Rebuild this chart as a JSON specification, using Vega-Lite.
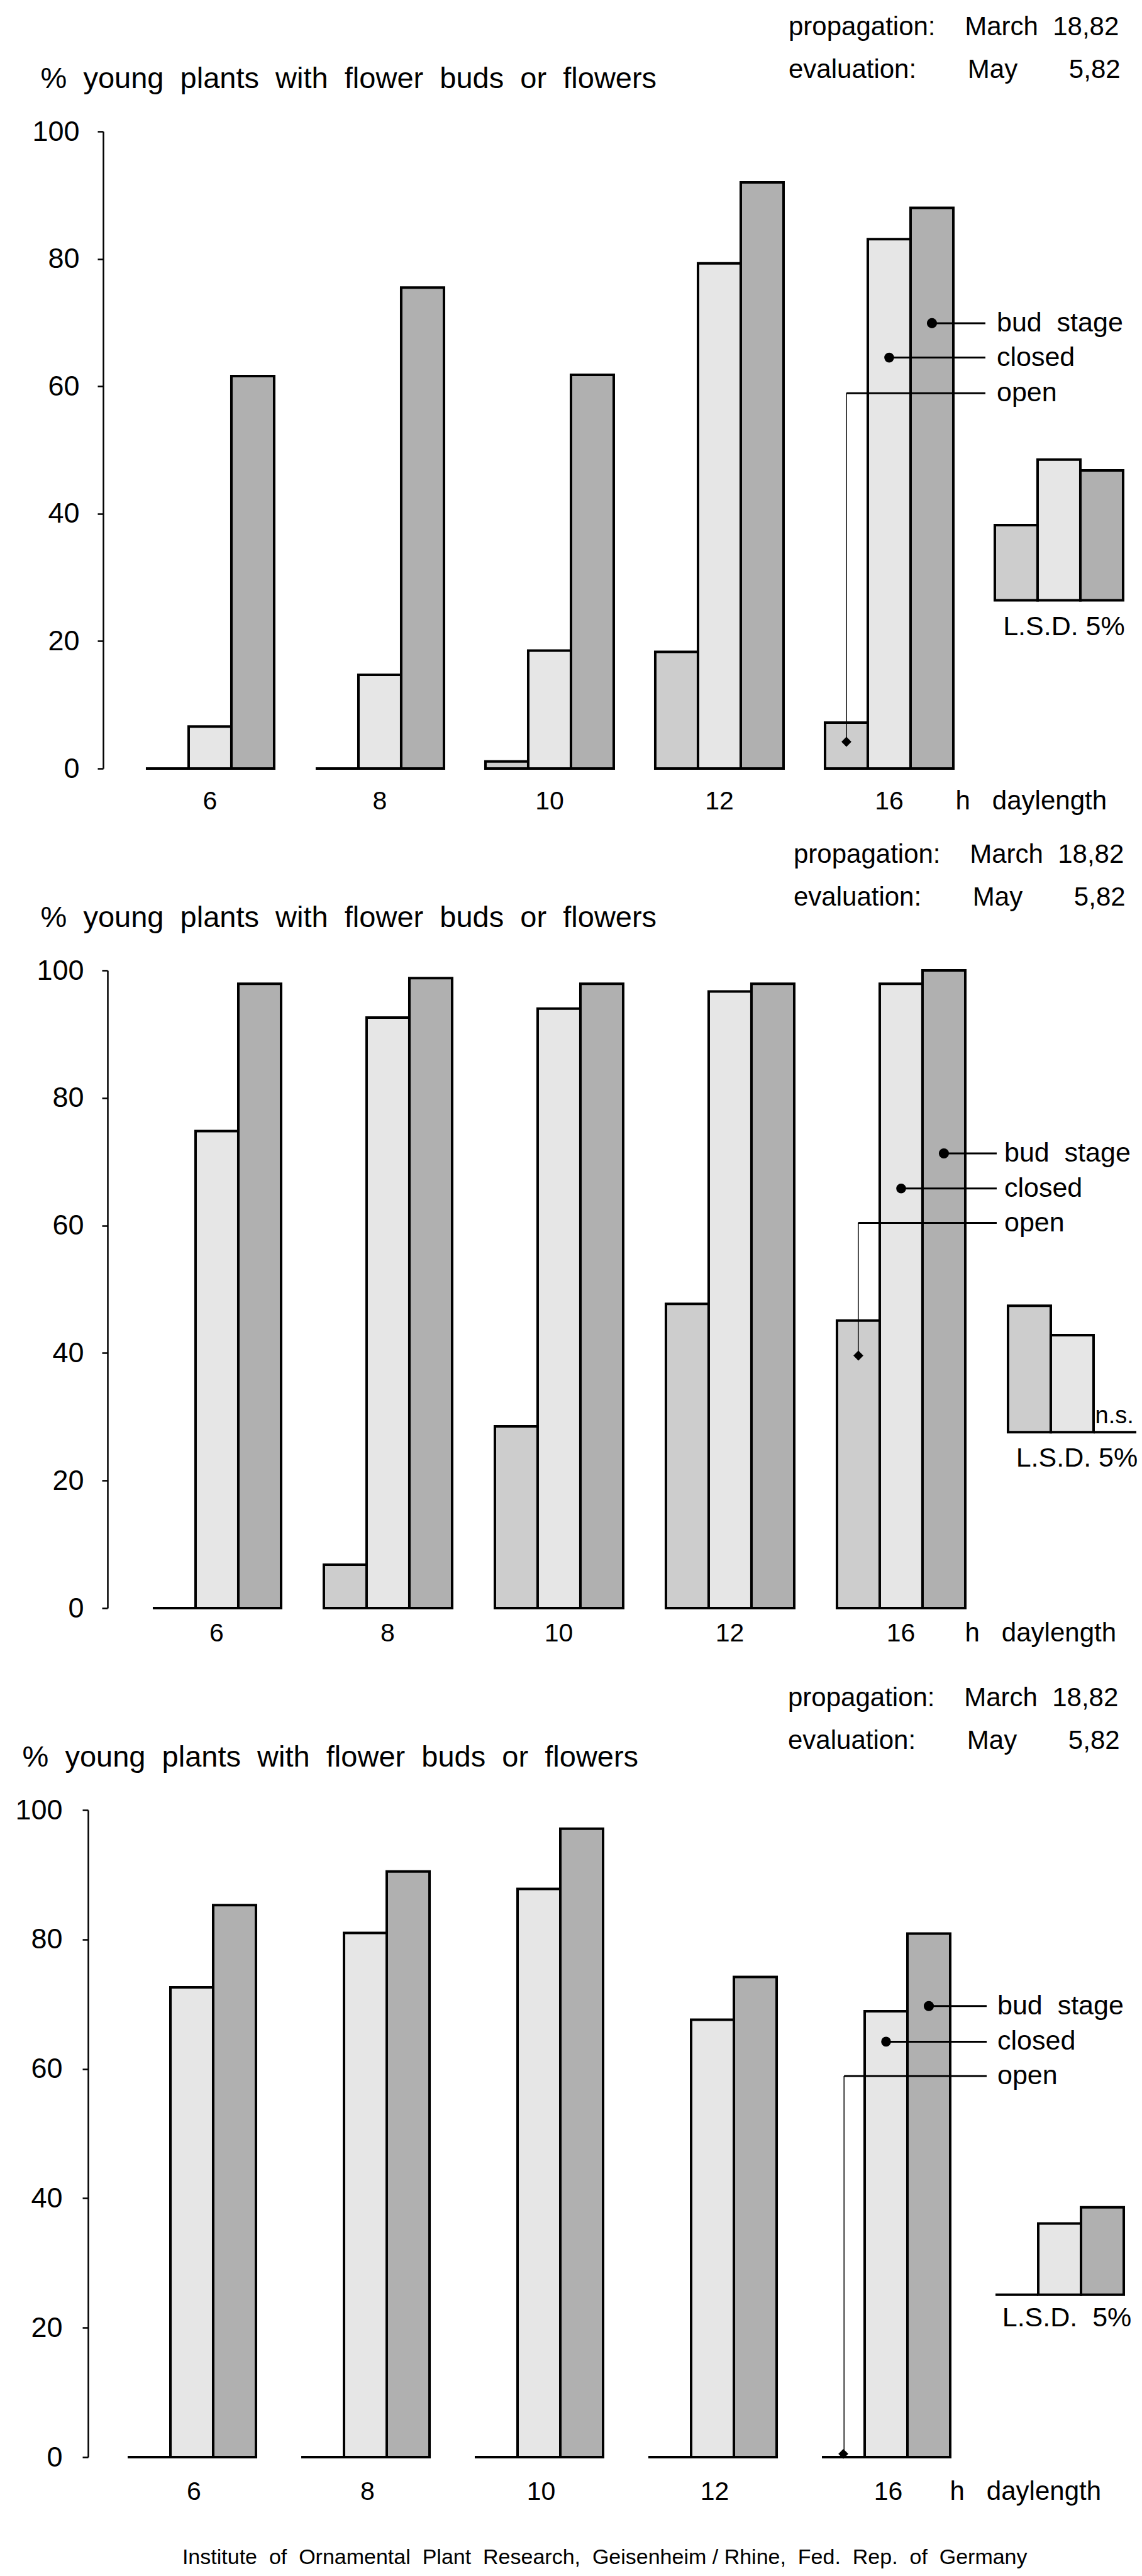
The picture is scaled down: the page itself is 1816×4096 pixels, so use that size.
{
 "$schema": "https://vega.github.io/schema/vega-lite/v6.json",
 "padding": {"left": 23, "top": 22, "right": 0, "bottom": 0},
 "background": "white",
 "bounds": "flush",
 "spacing": 321,
 "title": {"text": "Institute\u00a0\u00a0of\u00a0\u00a0Ornamental\u00a0\u00a0Plant\u00a0\u00a0Research,\u00a0\u00a0Geisenheim / Rhine,\u00a0\u00a0Fed.\u00a0\u00a0Rep.\u00a0\u00a0of\u00a0\u00a0Germany", "orient": "bottom", "anchor": "start", "frame": "bounds", "dx": 266, "offset": 95, "baseline": "alphabetic", "fontSize": 34, "fontWeight": "normal", "color": "black"},
 "datasets": {
  "bars": [
   {"panel":1,"daylength":"6","stage":"open","value":0},
   {"panel":1,"daylength":"6","stage":"closed","value":6.6},
   {"panel":1,"daylength":"6","stage":"bud","value":61.6},
   {"panel":1,"daylength":"8","stage":"open","value":0},
   {"panel":1,"daylength":"8","stage":"closed","value":14.7},
   {"panel":1,"daylength":"8","stage":"bud","value":75.5},
   {"panel":1,"daylength":"10","stage":"open","value":1.1},
   {"panel":1,"daylength":"10","stage":"closed","value":18.5},
   {"panel":1,"daylength":"10","stage":"bud","value":61.8},
   {"panel":1,"daylength":"12","stage":"open","value":18.3},
   {"panel":1,"daylength":"12","stage":"closed","value":79.3},
   {"panel":1,"daylength":"12","stage":"bud","value":92},
   {"panel":1,"daylength":"16","stage":"open","value":7.2},
   {"panel":1,"daylength":"16","stage":"closed","value":83.1},
   {"panel":1,"daylength":"16","stage":"bud","value":88},
   {"panel":2,"daylength":"6","stage":"open","value":0},
   {"panel":2,"daylength":"6","stage":"closed","value":74.8},
   {"panel":2,"daylength":"6","stage":"bud","value":97.9},
   {"panel":2,"daylength":"8","stage":"open","value":6.8},
   {"panel":2,"daylength":"8","stage":"closed","value":92.6},
   {"panel":2,"daylength":"8","stage":"bud","value":98.8},
   {"panel":2,"daylength":"10","stage":"open","value":28.5},
   {"panel":2,"daylength":"10","stage":"closed","value":94},
   {"panel":2,"daylength":"10","stage":"bud","value":97.9},
   {"panel":2,"daylength":"12","stage":"open","value":47.7},
   {"panel":2,"daylength":"12","stage":"closed","value":96.7},
   {"panel":2,"daylength":"12","stage":"bud","value":97.9},
   {"panel":2,"daylength":"16","stage":"open","value":45.1},
   {"panel":2,"daylength":"16","stage":"closed","value":97.9},
   {"panel":2,"daylength":"16","stage":"bud","value":100},
   {"panel":3,"daylength":"6","stage":"open","value":0},
   {"panel":3,"daylength":"6","stage":"closed","value":72.6},
   {"panel":3,"daylength":"6","stage":"bud","value":85.3},
   {"panel":3,"daylength":"8","stage":"open","value":0},
   {"panel":3,"daylength":"8","stage":"closed","value":81},
   {"panel":3,"daylength":"8","stage":"bud","value":90.5},
   {"panel":3,"daylength":"10","stage":"open","value":0},
   {"panel":3,"daylength":"10","stage":"closed","value":87.8},
   {"panel":3,"daylength":"10","stage":"bud","value":97.1},
   {"panel":3,"daylength":"12","stage":"open","value":0},
   {"panel":3,"daylength":"12","stage":"closed","value":67.6},
   {"panel":3,"daylength":"12","stage":"bud","value":74.2},
   {"panel":3,"daylength":"16","stage":"open","value":0},
   {"panel":3,"daylength":"16","stage":"closed","value":68.9},
   {"panel":3,"daylength":"16","stage":"bud","value":80.9}
  ],
  "lsd": [
   {"panel":1,"daylength":"LSD","stage":"open","base":26.4,"top":38.2},
   {"panel":1,"daylength":"LSD","stage":"closed","base":26.4,"top":48.5},
   {"panel":1,"daylength":"LSD","stage":"bud","base":26.4,"top":46.8},
   {"panel":2,"daylength":"LSD","stage":"open","base":27.6,"top":47.4},
   {"panel":2,"daylength":"LSD","stage":"closed","base":27.6,"top":42.8},
   {"panel":2,"daylength":"LSD","stage":"bud","base":27.6,"top":27.6},
   {"panel":3,"daylength":"LSD","stage":"open","base":25.1,"top":25.1},
   {"panel":3,"daylength":"LSD","stage":"closed","base":25.1,"top":36.1},
   {"panel":3,"daylength":"LSD","stage":"bud","base":25.1,"top":38.6}
  ],
  "lsdnotes": [
   {"panel":1,"base":26.4,"note":"L.S.D. 5%"},
   {"panel":2,"base":27.6,"note":"L.S.D. 5%"},
   {"panel":3,"base":25.1,"note":"L.S.D.\u00a0\u00a05%"}
  ],
  "ns": [{"panel":2,"base":27.6,"note":"n.s."}],
  "ann": [
   {"panel":1,"stage":"bud","line":69.9,"dot":69.9,"label":"bud\u00a0\u00a0stage"},
   {"panel":1,"stage":"closed","line":64.5,"dot":64.5,"label":"closed"},
   {"panel":1,"stage":"open","line":58.9,"dot":4.2,"label":"open"},
   {"panel":2,"stage":"bud","line":71.3,"dot":71.3,"label":"bud\u00a0\u00a0stage"},
   {"panel":2,"stage":"closed","line":65.8,"dot":65.8,"label":"closed"},
   {"panel":2,"stage":"open","line":60.4,"dot":39.6,"label":"open"},
   {"panel":3,"stage":"bud","line":69.7,"dot":69.7,"label":"bud\u00a0\u00a0stage"},
   {"panel":3,"stage":"closed","line":64.2,"dot":64.2,"label":"closed"},
   {"panel":3,"stage":"open","line":58.9,"dot":0.5,"label":"open"}
  ]
 },
 "vconcat": [
  {
   "width": 1680, "height": 1013,
   "title": {"text": ["propagation:\u00a0\u00a0\u00a0\u00a0March\u00a0\u00a018,82", "evaluation:\u00a0\u00a0\u00a0\u00a0\u00a0\u00a0\u00a0May\u00a0\u00a0\u00a0\u00a0\u00a0\u00a0\u00a05,82"], "anchor": "end", "frame": "group", "align": "left", "baseline": "alphabetic", "fontSize": 42, "fontWeight": "normal", "lineHeight": 68, "offset": -65, "dx": -566, "color": "black"},
   "layer": [
    {
     "data": {"name": "bars"},
     "transform": [{"filter": "datum.panel == 1"}],
     "mark": {"type": "bar", "stroke": "black", "strokeWidth": 4},
     "encoding": {
      "x": {"field": "daylength", "type": "nominal", "scale": {"domain": ["6","8","10","12","16","LSD"], "paddingInner": 0.2444, "paddingOuter": 0.2333, "align": 0.73}, "axis": {"title": "h\u00a0\u00a0\u00a0daylength", "titleX": 1379, "titleY": 64, "titleAlign": "left", "titleBaseline": "alphabetic", "titleFontSize": 42, "titleFontWeight": "normal", "domain": false, "ticks": false, "tickSize": 0, "labelPadding": 64, "labelBaseline": "alphabetic", "labelFontSize": 41, "labelAngle": 0, "labelExpr": "datum.value == 'LSD' ? '' : datum.value"}},
      "xOffset": {"field": "stage", "type": "nominal", "scale": {"domain": ["open","closed","bud"]}},
      "y": {"field": "value", "type": "quantitative", "scale": {"domain": [0,100], "nice": false}, "axis": {"title": "%\u00a0\u00a0young\u00a0\u00a0plants\u00a0\u00a0with\u00a0\u00a0flower\u00a0\u00a0buds\u00a0\u00a0or\u00a0\u00a0flowers", "titleAngle": 0, "titleAlign": "left", "titleBaseline": "alphabetic", "titleX": -100, "titleY": -70, "titleFontSize": 47, "titleFontWeight": "normal", "values": [0,20,40,60,80,100], "grid": false, "offset": -24, "domainColor": "black", "domainWidth": 2.5, "tickColor": "black", "tickWidth": 2.5, "tickSize": 9, "labelPadding": 29, "labelFontSize": 45, "labelFont": "Liberation Sans Narrow, Liberation Sans", "labelFlush": false}},
      "fill": {"field": "stage", "type": "nominal", "scale": {"domain": ["open","closed","bud"], "range": ["#cdcdcd","#e6e6e6","#b0b0b0"]}, "legend": null}
     }
    },
    {
     "data": {"name": "lsd"},
     "transform": [{"filter": "datum.panel == 1"}],
     "mark": {"type": "bar", "stroke": "black", "strokeWidth": 4},
     "encoding": {
      "x": {"field": "daylength", "type": "nominal"},
      "xOffset": {"field": "stage", "type": "nominal"},
      "y": {"field": "top", "type": "quantitative"},
      "y2": {"field": "base"},
      "fill": {"field": "stage", "type": "nominal", "legend": null}
     }
    },
    {
     "data": {"name": "ann"},
     "transform": [{"filter": "datum.panel == 1 && datum.stage == 'bud'"}],
     "mark": {"type": "rule", "stroke": "black", "strokeWidth": 3, "x2Offset": -15},
     "encoding": {"x": {"datum": "16", "bandPosition": 0.8333}, "x2": {"datum": "LSD", "bandPosition": 0}, "y": {"field": "line", "type": "quantitative"}}
    },
    {
     "data": {"name": "ann"},
     "transform": [{"filter": "datum.panel == 1 && datum.stage == 'closed'"}],
     "mark": {"type": "rule", "stroke": "black", "strokeWidth": 3, "x2Offset": -15},
     "encoding": {"x": {"datum": "16", "bandPosition": 0.5}, "x2": {"datum": "LSD", "bandPosition": 0}, "y": {"field": "line", "type": "quantitative"}}
    },
    {
     "data": {"name": "ann"},
     "transform": [{"filter": "datum.panel == 1 && datum.stage == 'open'"}],
     "mark": {"type": "rule", "stroke": "black", "strokeWidth": 3, "x2Offset": -15},
     "encoding": {"x": {"datum": "16", "bandPosition": 0.1667}, "x2": {"datum": "LSD", "bandPosition": 0}, "y": {"field": "line", "type": "quantitative"}}
    },
    {
     "data": {"name": "ann"},
     "transform": [{"filter": "datum.panel == 1 && datum.stage == 'open'"}],
     "mark": {"type": "rule", "stroke": "black", "strokeWidth": 1.5},
     "encoding": {"x": {"datum": "16", "bandPosition": 0.1667}, "y": {"field": "dot", "type": "quantitative"}, "y2": {"field": "line"}}
    },
    {
     "data": {"name": "ann"},
     "transform": [{"filter": "datum.panel == 1"}],
     "mark": {"type": "point", "filled": true, "fill": "black", "stroke": "black", "opacity": 1},
     "encoding": {
      "x": {"datum": "16"},
      "xOffset": {"field": "stage", "type": "nominal"},
      "y": {"field": "dot", "type": "quantitative"},
      "size": {"field": "stage", "type": "ordinal", "scale": {"domain": ["open","closed","bud"], "range": [170, 200, 420]}, "legend": null},
      "shape": {"field": "stage", "type": "nominal", "scale": {"domain": ["open","closed","bud"], "range": ["diamond","circle","circle"]}, "legend": null}
     }
    },
    {
     "data": {"name": "ann"},
     "transform": [{"filter": "datum.panel == 1"}],
     "mark": {"type": "text", "align": "left", "baseline": "middle", "dx": 3, "fontSize": 43, "color": "black"},
     "encoding": {"x": {"datum": "LSD", "bandPosition": 0}, "y": {"field": "line", "type": "quantitative"}, "text": {"field": "label"}}
    },
    {
     "data": {"name": "lsdnotes"},
     "transform": [{"filter": "datum.panel == 1"}],
     "mark": {"type": "text", "align": "center", "baseline": "middle", "dx": 8, "dy": 42, "fontSize": 43, "color": "black"},
     "encoding": {"x": {"datum": "LSD"}, "y": {"field": "base", "type": "quantitative"}, "text": {"field": "note"}}
    }
   ]
  },
  {
   "width": 1680, "height": 1014,
   "title": {"text": ["propagation:\u00a0\u00a0\u00a0\u00a0March\u00a0\u00a018,82", "evaluation:\u00a0\u00a0\u00a0\u00a0\u00a0\u00a0\u00a0May\u00a0\u00a0\u00a0\u00a0\u00a0\u00a0\u00a05,82"], "anchor": "end", "frame": "group", "align": "left", "baseline": "alphabetic", "fontSize": 42, "fontWeight": "normal", "lineHeight": 68, "offset": -47, "dx": -558, "color": "black"},
   "layer": [
    {
     "data": {"name": "bars"},
     "transform": [{"filter": "datum.panel == 2"}],
     "mark": {"type": "bar", "stroke": "black", "strokeWidth": 4},
     "encoding": {
      "x": {"field": "daylength", "type": "nominal", "scale": {"domain": ["6","8","10","12","16","LSD"], "paddingInner": 0.2537, "paddingOuter": 0.2151, "align": 0.88}, "axis": {"title": "h\u00a0\u00a0\u00a0daylength", "titleX": 1394, "titleY": 52, "titleAlign": "left", "titleBaseline": "alphabetic", "titleFontSize": 42, "titleFontWeight": "normal", "domain": false, "ticks": false, "tickSize": 0, "labelPadding": 52, "labelBaseline": "alphabetic", "labelFontSize": 41, "labelAngle": 0, "labelExpr": "datum.value == 'LSD' ? '' : datum.value"}},
      "xOffset": {"field": "stage", "type": "nominal", "scale": {"domain": ["open","closed","bud"]}},
      "y": {"field": "value", "type": "quantitative", "scale": {"domain": [0,100], "nice": false}, "axis": {"title": "%\u00a0\u00a0young\u00a0\u00a0plants\u00a0\u00a0with\u00a0\u00a0flower\u00a0\u00a0buds\u00a0\u00a0or\u00a0\u00a0flowers", "titleAngle": 0, "titleAlign": "left", "titleBaseline": "alphabetic", "titleX": -107, "titleY": -70, "titleFontSize": 47, "titleFontWeight": "normal", "values": [0,20,40,60,80,100], "grid": false, "offset": -31, "domainColor": "black", "domainWidth": 2.5, "tickColor": "black", "tickWidth": 2.5, "tickSize": 9, "labelPadding": 29, "labelFontSize": 45, "labelFont": "Liberation Sans Narrow, Liberation Sans", "labelFlush": false}},
      "fill": {"field": "stage", "type": "nominal", "scale": {"domain": ["open","closed","bud"], "range": ["#cdcdcd","#e6e6e6","#b0b0b0"]}, "legend": null}
     }
    },
    {
     "data": {"name": "lsd"},
     "transform": [{"filter": "datum.panel == 2"}],
     "mark": {"type": "bar", "stroke": "black", "strokeWidth": 4},
     "encoding": {
      "x": {"field": "daylength", "type": "nominal"},
      "xOffset": {"field": "stage", "type": "nominal"},
      "y": {"field": "top", "type": "quantitative"},
      "y2": {"field": "base"},
      "fill": {"field": "stage", "type": "nominal", "legend": null}
     }
    },
    {
     "data": {"name": "ann"},
     "transform": [{"filter": "datum.panel == 2 && datum.stage == 'bud'"}],
     "mark": {"type": "rule", "stroke": "black", "strokeWidth": 3, "x2Offset": -18},
     "encoding": {"x": {"datum": "16", "bandPosition": 0.8333}, "x2": {"datum": "LSD", "bandPosition": 0}, "y": {"field": "line", "type": "quantitative"}}
    },
    {
     "data": {"name": "ann"},
     "transform": [{"filter": "datum.panel == 2 && datum.stage == 'closed'"}],
     "mark": {"type": "rule", "stroke": "black", "strokeWidth": 3, "x2Offset": -18},
     "encoding": {"x": {"datum": "16", "bandPosition": 0.5}, "x2": {"datum": "LSD", "bandPosition": 0}, "y": {"field": "line", "type": "quantitative"}}
    },
    {
     "data": {"name": "ann"},
     "transform": [{"filter": "datum.panel == 2 && datum.stage == 'open'"}],
     "mark": {"type": "rule", "stroke": "black", "strokeWidth": 3, "x2Offset": -18},
     "encoding": {"x": {"datum": "16", "bandPosition": 0.1667}, "x2": {"datum": "LSD", "bandPosition": 0}, "y": {"field": "line", "type": "quantitative"}}
    },
    {
     "data": {"name": "ann"},
     "transform": [{"filter": "datum.panel == 2 && datum.stage == 'open'"}],
     "mark": {"type": "rule", "stroke": "black", "strokeWidth": 1.5},
     "encoding": {"x": {"datum": "16", "bandPosition": 0.1667}, "y": {"field": "dot", "type": "quantitative"}, "y2": {"field": "line"}}
    },
    {
     "data": {"name": "ann"},
     "transform": [{"filter": "datum.panel == 2"}],
     "mark": {"type": "point", "filled": true, "fill": "black", "stroke": "black", "opacity": 1},
     "encoding": {
      "x": {"datum": "16"},
      "xOffset": {"field": "stage", "type": "nominal"},
      "y": {"field": "dot", "type": "quantitative"},
      "size": {"field": "stage", "type": "ordinal", "scale": {"domain": ["open","closed","bud"], "range": [170, 200, 420]}, "legend": null},
      "shape": {"field": "stage", "type": "nominal", "scale": {"domain": ["open","closed","bud"], "range": ["diamond","circle","circle"]}, "legend": null}
     }
    },
    {
     "data": {"name": "ann"},
     "transform": [{"filter": "datum.panel == 2"}],
     "mark": {"type": "text", "align": "left", "baseline": "middle", "dx": -6, "fontSize": 43, "color": "black"},
     "encoding": {"x": {"datum": "LSD", "bandPosition": 0}, "y": {"field": "line", "type": "quantitative"}, "text": {"field": "label"}}
    },
    {
     "data": {"name": "lsdnotes"},
     "transform": [{"filter": "datum.panel == 2"}],
     "mark": {"type": "text", "align": "center", "baseline": "middle", "dx": 8, "dy": 42, "fontSize": 43, "color": "black"},
     "encoding": {"x": {"datum": "LSD"}, "y": {"field": "base", "type": "quantitative"}, "text": {"field": "note"}}
    },
    {
     "data": {"name": "ns"},
     "mark": {"type": "text", "align": "center", "baseline": "alphabetic", "dy": -14, "fontSize": 38, "color": "black"},
     "encoding": {"x": {"datum": "LSD", "bandPosition": 0.8333}, "y": {"field": "base", "type": "quantitative"}, "text": {"field": "note"}}
    }
   ]
  },
  {
   "width": 1680, "height": 1029,
   "title": {"text": ["propagation:\u00a0\u00a0\u00a0\u00a0March\u00a0\u00a018,82", "evaluation:\u00a0\u00a0\u00a0\u00a0\u00a0\u00a0\u00a0May\u00a0\u00a0\u00a0\u00a0\u00a0\u00a0\u00a05,82"], "anchor": "end", "frame": "group", "align": "left", "baseline": "alphabetic", "fontSize": 42, "fontWeight": "normal", "lineHeight": 68, "offset": -53, "dx": -567, "color": "black"},
   "layer": [
    {
     "data": {"name": "bars"},
     "transform": [{"filter": "datum.panel == 3"}],
     "mark": {"type": "bar", "stroke": "black", "strokeWidth": 4},
     "encoding": {
      "x": {"field": "daylength", "type": "nominal", "scale": {"domain": ["6","8","10","12","16","LSD"], "paddingInner": 0.2355, "paddingOuter": 0.1612, "align": 0.708}, "axis": {"title": "h\u00a0\u00a0\u00a0daylength", "titleX": 1370, "titleY": 67, "titleAlign": "left", "titleBaseline": "alphabetic", "titleFontSize": 42, "titleFontWeight": "normal", "domain": false, "ticks": false, "tickSize": 0, "labelPadding": 67, "labelBaseline": "alphabetic", "labelFontSize": 41, "labelAngle": 0, "labelExpr": "datum.value == 'LSD' ? '' : datum.value"}},
      "xOffset": {"field": "stage", "type": "nominal", "scale": {"domain": ["open","closed","bud"]}},
      "y": {"field": "value", "type": "quantitative", "scale": {"domain": [0,100], "nice": false}, "axis": {"title": "%\u00a0\u00a0young\u00a0\u00a0plants\u00a0\u00a0with\u00a0\u00a0flower\u00a0\u00a0buds\u00a0\u00a0or\u00a0\u00a0flowers", "titleAngle": 0, "titleAlign": "left", "titleBaseline": "alphabetic", "titleX": -105, "titleY": -70, "titleFontSize": 47, "titleFontWeight": "normal", "values": [0,20,40,60,80,100], "grid": false, "offset": 0, "domainColor": "black", "domainWidth": 2.5, "tickColor": "black", "tickWidth": 2.5, "tickSize": 9, "labelPadding": 32, "labelFontSize": 45, "labelFont": "Liberation Sans Narrow, Liberation Sans", "labelFlush": false}},
      "fill": {"field": "stage", "type": "nominal", "scale": {"domain": ["open","closed","bud"], "range": ["#cdcdcd","#e6e6e6","#b0b0b0"]}, "legend": null}
     }
    },
    {
     "data": {"name": "lsd"},
     "transform": [{"filter": "datum.panel == 3"}],
     "mark": {"type": "bar", "stroke": "black", "strokeWidth": 4},
     "encoding": {
      "x": {"field": "daylength", "type": "nominal"},
      "xOffset": {"field": "stage", "type": "nominal"},
      "y": {"field": "top", "type": "quantitative"},
      "y2": {"field": "base"},
      "fill": {"field": "stage", "type": "nominal", "legend": null}
     }
    },
    {
     "data": {"name": "ann"},
     "transform": [{"filter": "datum.panel == 3 && datum.stage == 'bud'"}],
     "mark": {"type": "rule", "stroke": "black", "strokeWidth": 3, "x2Offset": -14},
     "encoding": {"x": {"datum": "16", "bandPosition": 0.8333}, "x2": {"datum": "LSD", "bandPosition": 0}, "y": {"field": "line", "type": "quantitative"}}
    },
    {
     "data": {"name": "ann"},
     "transform": [{"filter": "datum.panel == 3 && datum.stage == 'closed'"}],
     "mark": {"type": "rule", "stroke": "black", "strokeWidth": 3, "x2Offset": -14},
     "encoding": {"x": {"datum": "16", "bandPosition": 0.5}, "x2": {"datum": "LSD", "bandPosition": 0}, "y": {"field": "line", "type": "quantitative"}}
    },
    {
     "data": {"name": "ann"},
     "transform": [{"filter": "datum.panel == 3 && datum.stage == 'open'"}],
     "mark": {"type": "rule", "stroke": "black", "strokeWidth": 3, "x2Offset": -14},
     "encoding": {"x": {"datum": "16", "bandPosition": 0.1667}, "x2": {"datum": "LSD", "bandPosition": 0}, "y": {"field": "line", "type": "quantitative"}}
    },
    {
     "data": {"name": "ann"},
     "transform": [{"filter": "datum.panel == 3 && datum.stage == 'open'"}],
     "mark": {"type": "rule", "stroke": "black", "strokeWidth": 1.5},
     "encoding": {"x": {"datum": "16", "bandPosition": 0.1667}, "y": {"field": "dot", "type": "quantitative"}, "y2": {"field": "line"}}
    },
    {
     "data": {"name": "ann"},
     "transform": [{"filter": "datum.panel == 3"}],
     "mark": {"type": "point", "filled": true, "fill": "black", "stroke": "black", "opacity": 1},
     "encoding": {
      "x": {"datum": "16"},
      "xOffset": {"field": "stage", "type": "nominal"},
      "y": {"field": "dot", "type": "quantitative"},
      "size": {"field": "stage", "type": "ordinal", "scale": {"domain": ["open","closed","bud"], "range": [170, 200, 420]}, "legend": null},
      "shape": {"field": "stage", "type": "nominal", "scale": {"domain": ["open","closed","bud"], "range": ["diamond","circle","circle"]}, "legend": null}
     }
    },
    {
     "data": {"name": "ann"},
     "transform": [{"filter": "datum.panel == 3"}],
     "mark": {"type": "text", "align": "left", "baseline": "middle", "dx": 3, "fontSize": 43, "color": "black"},
     "encoding": {"x": {"datum": "LSD", "bandPosition": 0}, "y": {"field": "line", "type": "quantitative"}, "text": {"field": "label"}}
    },
    {
     "data": {"name": "lsdnotes"},
     "transform": [{"filter": "datum.panel == 3"}],
     "mark": {"type": "text", "align": "center", "baseline": "middle", "dx": 8, "dy": 37, "fontSize": 43, "color": "black"},
     "encoding": {"x": {"datum": "LSD"}, "y": {"field": "base", "type": "quantitative"}, "text": {"field": "note"}}
    }
   ]
  }
 ],
 "config": {
  "font": "Liberation Sans",
  "view": {"stroke": null},
  "axis": {"labelColor": "black", "titleColor": "black"},
  "title": {"color": "black"}
 }
}
